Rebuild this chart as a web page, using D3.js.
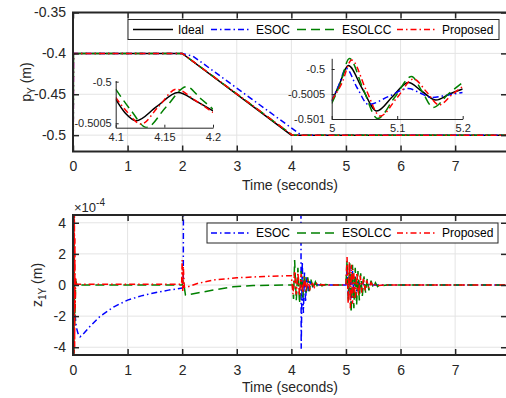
<!DOCTYPE html>
<html>
<head>
<meta charset="utf-8">
<script src="https://d3js.org/d3.v7.min.js"></script>
<style>
  body { margin: 0; background: #fff; }
  svg { display: block; font-family: "Liberation Sans", Arial, sans-serif; }
</style>
</head>
<body>
<div id="chart"></div>
<script>
// ---- data: top panel, p_Y (m), [time s, value] ----
const pIdeal = [[0, -0.4], [2, -0.4], [4, -0.5], [7.95, -0.5]];
const pEsoc = [[0, -0.6], [0.01, -0.4], [2, -0.4], [2.2, -0.4035], [4.15, -0.4985], [4.2, -0.5], [7.95, -0.5]];
const pEsolcc = [[0, -0.6], [0.01, -0.4], [2, -0.4], [4.02, -0.5], [7.95, -0.5]];
const pProp = [[0, -0.6], [0.01, -0.4], [2, -0.4], [4.02, -0.5], [7.95, -0.5]];

// inset 1 (4.1 - 4.2 s)
const in1Ideal = [[4.1, -0.50021], [4.11, -0.50038], [4.121, -0.50047], [4.142, -0.5003], [4.164, -0.50013], [4.182, -0.50023], [4.2, -0.50035]];
const in1Esolcc = [[4.1, -0.50009], [4.116, -0.50035], [4.1316, -0.50055], [4.152, -0.5003], [4.173, -0.50006], [4.187, -0.5002], [4.2, -0.50033]];
const in1Prop = [[4.1, -0.50019], [4.113, -0.50038], [4.126, -0.50051], [4.144, -0.5003], [4.1625, -0.50009], [4.181, -0.50022], [4.2, -0.50037]];

// inset 2 (5.0 - 5.2 s)
const in2Ideal = [[5, -0.50065], [5.012, -0.5003], [5.0253, -0.49993], [5.047, -0.5004], [5.0687, -0.50084], [5.093, -0.50055], [5.117, -0.50027], [5.138, -0.50045], [5.159, -0.50062], [5.18, -0.5005], [5.2, -0.5004]];
const in2Esoc = [[5, -0.50064], [5.011, -0.50032], [5.022, -0.49999], [5.039, -0.50038], [5.056, -0.50071], [5.087, -0.50055], [5.117, -0.50039], [5.135, -0.50048], [5.153, -0.50057], [5.177, -0.50052], [5.2, -0.50047]];
const in2Esolcc = [[5, -0.50069], [5.013, -0.5003], [5.027, -0.49979], [5.048, -0.5004], [5.07, -0.50099], [5.096, -0.50057], [5.122, -0.50015], [5.138, -0.50045], [5.155, -0.50077], [5.178, -0.5005], [5.2, -0.50027]];
const in2Prop = [[5, -0.50062], [5.015, -0.5003], [5.0305, -0.49982], [5.052, -0.5004], [5.074, -0.50094], [5.1, -0.50057], [5.125, -0.5002], [5.145, -0.50046], [5.164, -0.50072], [5.183, -0.50052], [5.2, -0.50035]];

// ---- data: bottom panel, z_1Y in units of 1e-4 m ----
const zEsoc = [[0, 0], [0.01, -3], [0.02, -1.8], [0.04, -2.0], [0.06, -2.7], [0.09, -3.1], [0.13, -3.33], [0.2, -3.1],
  [0.3, -2.7], [0.5, -2.0], [0.75, -1.4], [1.0, -0.97], [1.25, -0.7], [1.5, -0.5], [1.75, -0.33], [2.0, -0.2],
  [2.02, -0.15], [2.05, 60], [4.15, 60], [4.18, -4.1], [4.2, 1.5], [4.22, -1.8], [4.24, 0.8], [4.26, -1.1],
  [4.28, 0.5], [4.31, -0.4], [4.34, 0.25], [4.38, -0.15], [4.43, 0.06], [4.5, 0], [5.0, 0], [5.02, 1.0],
  [5.045, -0.9], [5.07, 1.2], [5.095, -1.1], [5.12, 0.9], [5.145, -0.8], [5.17, 0.6], [5.2, -0.5], [5.23, 0.35],
  [5.26, -0.25], [5.3, 0.15], [5.35, -0.08], [5.4, 0.04], [5.5, 0], [7.95, 0]];
const zEsolcc = [[0, 0], [0.005, -6], [0.01, 5], [0.015, -5], [0.02, 3], [0.03, -2.6], [0.04, -1.2], [0.05, 0.3],
  [0.07, 0], [2.0, 0], [2.02, 0.3], [2.06, -0.65], [2.08, -0.65], [2.3, -0.5], [2.57, -0.32], [2.93, -0.12],
  [3.3, -0.03], [4.0, 0], [4.02, 0], [4.04, -0.9], [4.06, 1.6], [4.09, -1.0], [4.12, 1.1], [4.15, -1.2], [4.18, 0.9],
  [4.21, -0.8], [4.24, 0.7], [4.27, -0.5], [4.3, 0.5], [4.33, -0.4], [4.36, 0.35], [4.4, -0.25], [4.44, 0.2],
  [4.48, -0.12], [4.52, 0.1], [4.56, -0.05], [4.62, 0.03], [4.7, 0], [5.0, 0], [5.02, 1.6], [5.045, -1.0],
  [5.07, 1.4], [5.095, -1.8], [5.12, 1.3], [5.145, -1.5], [5.17, 1.1], [5.195, -1.3], [5.22, 0.9], [5.245, -1.0],
  [5.27, 0.75], [5.3, -0.7], [5.33, 0.55], [5.36, -0.5], [5.39, 0.4], [5.42, -0.35], [5.46, 0.28], [5.5, -0.2],
  [5.54, 0.15], [5.58, -0.1], [5.63, 0.06], [5.68, -0.03], [5.75, 0], [7.95, 0]];
const zProp = [[0, 0], [0.004, -8], [0.008, 8], [0.012, -8], [0.016, 8], [0.02, -6], [0.025, 6], [0.03, -4],
  [0.035, 3], [0.04, -1.5], [0.05, 0.5], [0.06, 0.05], [1.99, 0.05], [2.0, 1.6], [2.01, -0.4], [2.02, 1.2],
  [2.04, -0.15], [2.08, -0.15], [2.3, 0.12], [2.6, 0.33], [3.0, 0.46], [3.5, 0.55], [4.0, 0.6], [4.03, -0.6],
  [4.06, 0.9], [4.09, -0.6], [4.12, 0.8], [4.15, -0.7], [4.18, 0.7], [4.21, -0.5], [4.24, 0.5], [4.27, -0.4],
  [4.3, 0.35], [4.34, -0.25], [4.38, 0.2], [4.42, -0.15], [4.46, 0.1], [4.5, -0.05], [4.55, 0.03], [4.6, 0],
  [5.0, 0], [5.02, 1.8], [5.04, -1.2], [5.06, 1.5], [5.08, -1.5], [5.1, 1.3], [5.12, -1.2], [5.14, 1.0],
  [5.17, -0.9], [5.2, 0.8], [5.23, -0.7], [5.26, 0.6], [5.29, -0.5], [5.32, 0.45], [5.35, -0.35], [5.38, 0.3],
  [5.42, -0.2], [5.46, 0.15], [5.5, -0.1], [5.55, 0.07], [5.6, -0.03], [5.7, 0], [7.95, 0]];

// ---- ticks ----
const xTicks = [0, 1, 2, 3, 4, 5, 6, 7];
const pTicks = [-0.5, -0.45, -0.4, -0.35];
const zTicks = [-4, -2, 0, 2, 4];
const in1XTicks = [4.1, 4.15, 4.2];
const in1YTicks = [-0.5005, -0.5];
const in2XTicks = [5, 5.1, 5.2];
const in2YTicks = [-0.501, -0.5005, -0.5];

const names = { ideal: "Ideal", esoc: "ESOC", esolcc: "ESOLCC", prop: "Proposed" };
const styles = {
  ideal: { color: "#000000", dash: null },
  esoc: { color: "#0000ff", dash: "6,3,1.5,3" },
  esolcc: { color: "#008000", dash: "9,5" },
  prop: { color: "#ff0000", dash: "6,3,1.5,3" }
};
const axisColor = "#262626";

const svg = d3.select("#chart").append("svg")
  .attr("width", 506)
  .attr("height", 398);

const x = d3.scaleLinear().domain([0, 7.95]).range([73, 507]);
const yTop = d3.scaleLinear().domain([-0.52, -0.35]).range([151.5, 12.5]);
const yBot = d3.scaleLinear().domain([-4.5, 4.5]).range([355, 215]);

function drawPanel(y, yTicks, id) {
  const [y0, y1] = y.range();
  const g = svg.append("g");

  g.append("clipPath").attr("id", id)
    .append("rect")
    .attr("x", x.range()[0]).attr("y", y1)
    .attr("width", x.range()[1] - x.range()[0]).attr("height", y0 - y1);

  g.selectAll(".gx").data(xTicks).join("line")
    .attr("x1", d => x(d)).attr("x2", d => x(d))
    .attr("y1", y1).attr("y2", y0)
    .attr("stroke", "#e4e4e4").attr("stroke-width", 1);
  g.selectAll(".gy").data(yTicks).join("line")
    .attr("x1", x.range()[0]).attr("x2", x.range()[1])
    .attr("y1", d => y(d)).attr("y2", d => y(d))
    .attr("stroke", "#e4e4e4").attr("stroke-width", 1);
  return g;
}

function drawFrame(y, yTicks) {
  const [y0, y1] = y.range();
  const g = svg.append("g");
  const styleAxis = sel => {
    sel.select(".domain").remove();
    sel.selectAll("line").attr("stroke", axisColor).attr("stroke-width", 1.5);
    sel.selectAll("text").attr("fill", axisColor).style("font-size", "14px")
      .style("font-family", "'Liberation Sans', Arial, sans-serif");
  };
  g.append("g").attr("transform", `translate(0,${y0})`)
    .call(d3.axisBottom(x).tickValues(xTicks).tickSize(-6).tickPadding(10).tickFormat(String))
    .call(styleAxis);
  g.append("g").attr("transform", `translate(0,${y1})`)
    .call(d3.axisTop(x).tickValues(xTicks).tickSize(-6).tickFormat(""))
    .call(styleAxis);
  g.append("g").attr("transform", `translate(${x.range()[0]},0)`)
    .call(d3.axisLeft(y).tickValues(yTicks).tickSize(-6).tickPadding(7).tickFormat(String))
    .call(styleAxis);
  g.append("g").attr("transform", `translate(${x.range()[1]},0)`)
    .call(d3.axisRight(y).tickValues(yTicks).tickSize(-6).tickFormat(""))
    .call(styleAxis);
  g.append("rect")
    .attr("x", x.range()[0]).attr("y", y1)
    .attr("width", x.range()[1] - x.range()[0]).attr("height", y0 - y1)
    .attr("fill", "none").attr("stroke", axisColor).attr("stroke-width", 2);
}

function drawSeries(g, data, key, xs, ys, clipId, curve) {
  const line = d3.line()
    .x(d => xs(d[0]))
    .y(d => ys(d[1]))
    .curve(curve || d3.curveLinear);
  g.append("path")
    .datum(data)
    .attr("clip-path", `url(#${clipId})`)
    .attr("fill", "none")
    .attr("stroke", styles[key].color)
    .attr("stroke-width", 1.5)
    .attr("stroke-dasharray", styles[key].dash)
    .attr("d", line);
}

function drawLegend(keys, bx, by, bw) {
  const g = svg.append("g");
  g.append("rect")
    .attr("x", bx).attr("y", by).attr("width", bw).attr("height", 20)
    .attr("fill", "#fff").attr("stroke", axisColor).attr("stroke-width", 1);
  const itemX = { ideal: 133, esoc: 211, esolcc: 297, prop: 397 };
  keys.forEach(k => {
    const x0 = itemX[k];
    g.append("line")
      .attr("x1", x0).attr("x2", x0 + 40)
      .attr("y1", by + 10).attr("y2", by + 10)
      .attr("stroke", styles[k].color).attr("stroke-width", 1.5)
      .attr("stroke-dasharray", styles[k].dash);
    g.append("text")
      .attr("x", x0 + 45).attr("y", by + 10).attr("dy", "0.35em")
      .attr("fill", "#000").style("font-size", "12px")
      .text(names[k]);
  });
}

function drawInset(g, xr, yr, xDom, yDom, xt, yt, series, id, padL, padB) {
  const xs = d3.scaleLinear().domain(xDom).range(xr);
  const ys = d3.scaleLinear().domain(yDom).range(yr);
  g.append("clipPath").attr("id", id)
    .append("rect")
    .attr("x", xr[0]).attr("y", yr[1] - 2)
    .attr("width", xr[1] - xr[0]).attr("height", yr[0] - yr[1] + 2);
  series.forEach(([data, key]) => drawSeries(g, data, key, xs, ys, id, d3.curveMonotoneX));
  const styleAxis = sel => {
    sel.select(".domain").attr("stroke", axisColor).attr("stroke-width", 1);
    sel.selectAll("line").attr("stroke", axisColor);
    sel.selectAll("text").attr("fill", axisColor).style("font-size", "11px")
      .style("font-family", "'Liberation Sans', Arial, sans-serif");
  };
  g.append("g").attr("transform", `translate(0,${yr[0]})`)
    .call(d3.axisBottom(xs).tickValues(xt).tickSize(-3).tickSizeOuter(0).tickPadding(padB).tickFormat(String))
    .call(styleAxis);
  g.append("g").attr("transform", `translate(${xr[0]},0)`)
    .call(d3.axisLeft(ys).tickValues(yt).tickSize(-3).tickSizeOuter(0).tickPadding(padL).tickFormat(String))
    .call(styleAxis);
}

// ---- top panel ----
const gTop = drawPanel(yTop, pTicks, "clipTop");
drawSeries(gTop, pIdeal, "ideal", x, yTop, "clipTop");
drawSeries(gTop, pEsoc, "esoc", x, yTop, "clipTop");
drawSeries(gTop, pEsolcc, "esolcc", x, yTop, "clipTop");
drawSeries(gTop, pProp, "prop", x, yTop, "clipTop");

drawInset(gTop, [115.7, 213], [127.7, 80.5], [4.1, 4.2], [-0.500553, -0.499986], in1XTicks, in1YTicks,
  [[in1Ideal, "ideal"], [in1Esolcc, "esolcc"], [in1Prop, "prop"]], "clipIn1", 4, 6);
drawInset(gTop, [331.7, 462.7], [119, 58.3], [5, 5.2], [-0.501, -0.499786], in2XTicks, in2YTicks,
  [[in2Ideal, "ideal"], [in2Esoc, "esoc"], [in2Esolcc, "esolcc"], [in2Prop, "prop"]], "clipIn2", 6.5, 5);

drawFrame(yTop, pTicks);
drawLegend(["ideal", "esoc", "esolcc", "prop"], 128, 19.5, 371);

// ---- bottom panel ----
const gBot = drawPanel(yBot, zTicks, "clipBot");
drawSeries(gBot, zEsoc, "esoc", x, yBot, "clipBot");
drawSeries(gBot, zEsolcc, "esolcc", x, yBot, "clipBot");
drawSeries(gBot, zProp, "prop", x, yBot, "clipBot");
drawFrame(yBot, zTicks);
drawLegend(["esoc", "esolcc", "prop"], 207, 223, 291);

// ---- labels ----
const lbl = svg.append("g").attr("fill", axisColor).style("font-size", "14px");
lbl.append("text").attr("x", 290).attr("y", 189.5).attr("text-anchor", "middle").text("Time (seconds)");
lbl.append("text").attr("x", 290).attr("y", 392).attr("text-anchor", "middle").text("Time (seconds)");

const pl = lbl.append("text").attr("transform", "translate(31,82) rotate(-90)").attr("text-anchor", "middle");
pl.append("tspan").text("p");
pl.append("tspan").attr("dy", 4).style("font-size", "10px").text("Y");
pl.append("tspan").attr("dy", -4).text(" (m)");

const zl = lbl.append("text").attr("transform", "translate(42,285) rotate(-90)").attr("text-anchor", "middle");
zl.append("tspan").text("z");
zl.append("tspan").attr("dy", 4).style("font-size", "10px").text("1Y");
zl.append("tspan").attr("dy", -4).text(" (m)");

const ex = lbl.append("text").attr("x", 74).attr("y", 212).style("font-size", "13px");
ex.append("tspan").text("\u00d710");
ex.append("tspan").attr("dy", -6).style("font-size", "10px").text("-4");
</script>
</body>
</html>
